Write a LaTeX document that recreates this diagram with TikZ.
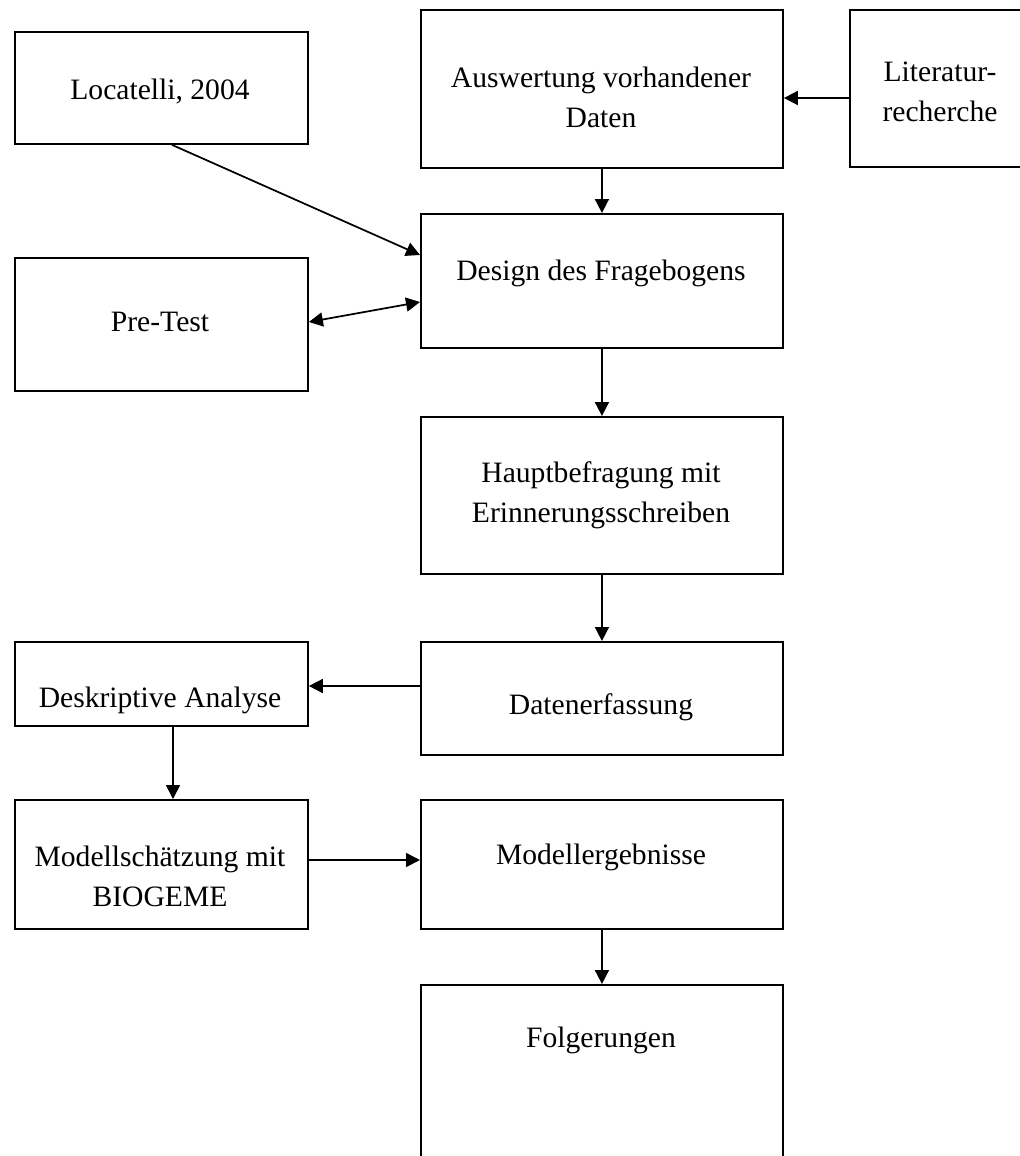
\documentclass[tikz,border=0pt]{standalone}
\usepackage{fontspec}
\setmainfont{Liberation Serif}
\usetikzlibrary{arrows.meta}
\begin{document}
\begin{tikzpicture}[x=0.75pt,y=-0.75pt,
  box/.style={draw=black,line width=1.4pt,fill=none,inner sep=0pt,anchor=north west},
  txt/.style={font=\fontsize{22.2}{30}\selectfont,align=center,inner sep=0pt},
  conn/.style={line width=1.3pt,-{Triangle[length=10.5pt,width=10.5pt]}},
  dconn/.style={line width=1.3pt,{Triangle[length=10.5pt,width=10.5pt]}-{Triangle[length=10.5pt,width=10.5pt]}}]
\useasboundingbox (0,0) rectangle (1020,1156);
\clip (0,0) rectangle (1020,1156);
% boxes
\node[box,minimum width=293pt*0.75,minimum height=112pt*0.75] (loc) at (14,31) {};
\node[box,minimum width=362pt*0.75,minimum height=158pt*0.75] (ausw) at (420,9) {};
\node[box,minimum width=182pt*0.75,minimum height=157pt*0.75] (lit) at (849,9) {};
\node[box,minimum width=362pt*0.75,minimum height=134pt*0.75] (design) at (420,213) {};
\node[box,minimum width=293pt*0.75,minimum height=133pt*0.75] (pretest) at (14,257) {};
\node[box,minimum width=362pt*0.75,minimum height=157pt*0.75] (haupt) at (420,416) {};
\node[box,minimum width=362pt*0.75,minimum height=113pt*0.75] (daten) at (420,641) {};
\node[box,minimum width=293pt*0.75,minimum height=84pt*0.75] (desk) at (14,641) {};
\node[box,minimum width=293pt*0.75,minimum height=129pt*0.75] (modsch) at (14,799) {};
\node[box,minimum width=362pt*0.75,minimum height=129pt*0.75] (moderg) at (420,799) {};
\node[box,minimum width=362pt*0.75,minimum height=200pt*0.75] (folg) at (420,984) {};
% texts
\node[txt] (tloc) at (160,92) {Locatelli, 2004};
\node[txt] (tausw) at (601,97) {Auswertung vorhandener\\Daten};
\node[txt] (tlit) at (940,92) {Literatur-\\recherche};
\node[txt] (tdesign) at (601,273) {Design des Fragebogens};
\node[txt] (tpretest) at (160,322) {Pre-Test};
\node[txt] (thaupt) at (601,495) {Hauptbefragung mit\\Erinnerungsschreiben};
\node[txt] (tdaten) at (601,707) {Datenerfassung};
\node[txt] (tdesk) at (160,700) {Deskriptive Analyse};
\node[txt] (tmodsch) at (160,876) {Modellschätzung mit\\BIOGEME};
\node[txt] (tmoderg) at (601,857) {Modellergebnisse};
\node[txt] (tfolg) at (601,1040) {Folgerungen};
% connectors
\draw[conn] (lit.west |- 0,98) -- (ausw.east |- 0,98);
\draw[conn] (ausw.south) -- (design.north);
\draw[conn] (loc.south -| 172,0) -- (design.west |- 0,255);
\draw[dconn] (pretest.east |- 0,322) -- (design.west |- 0,302);
\draw[conn] (design.south) -- (haupt.north);
\draw[conn] (haupt.south) -- (daten.north);
\draw[conn] (daten.west |- 0,686) -- (desk.east |- 0,686);
\draw[conn] (desk.south -| 173,0) -- (modsch.north -| 173,0);
\draw[conn] (modsch.east |- 0,860) -- (moderg.west |- 0,860);
\draw[conn] (moderg.south) -- (folg.north);
\end{tikzpicture}
\end{document}
